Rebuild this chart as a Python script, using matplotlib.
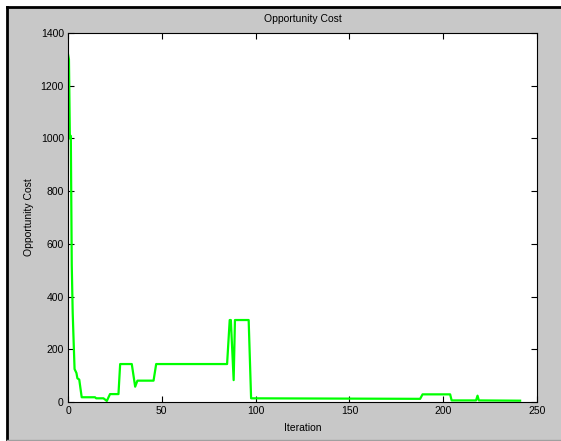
import matplotlib
matplotlib.use("Agg")
import matplotlib.pyplot as plt
from matplotlib.patches import Rectangle
from matplotlib.lines import Line2D

# breakpoints
iteration = [0, 0.5, 1, 1.5, 2, 2.5, 3, 3.5, 4.5, 5, 6, 7.3, 14.4, 15, 18.9, 20.7,
             22.4, 26.9, 27.8, 34, 35.8, 37, 45.6, 47, 84.8, 86.2, 86.8, 88.3,
             89, 90.1, 96.3, 97.6, 187.7, 189, 203.7, 204.5, 217.5, 218.3, 219, 241]
cost = [1320, 1300, 1000, 1010, 520, 340, 230, 125, 110, 90, 85, 18, 18, 14, 14, 4,
        30, 30, 144, 144, 58, 81, 81, 144, 144, 311, 311, 83,
        311, 311, 311, 14, 12, 29, 29, 6, 6, 24, 6, 5]

xticks = [0, 50, 100, 150, 200, 250]
yticks = [0, 200, 400, 600, 800, 1000, 1200, 1400]

plt.rcParams["font.family"] = ["Liberation Sans", "DejaVu Sans"]

fig = plt.figure(figsize=(5.61, 4.41), dpi=100, facecolor="white")

# window-like frame
W, H = 561, 441
fig.add_artist(Rectangle((7 / W, 0), 1 - 7 / W, 1 - 7 / H, transform=fig.transFigure,
                         facecolor="#c8c8c8", edgecolor="none", zorder=-10))
fig.add_artist(Line2D([7 / W, 7 / W], [0, 1 - 7 / H], transform=fig.transFigure,
                      color="black", lw=2))
fig.add_artist(Line2D([7 / W, 1], [1 - 7 / H, 1 - 7 / H], transform=fig.transFigure,
                      color="black", lw=2))
fig.add_artist(Line2D([7 / W, 1], [1.5 / H, 1.5 / H], transform=fig.transFigure,
                      color="#a0a0a0", lw=1))

ax = fig.add_axes([68 / W, 1 - 402 / H, (537 - 68) / W, (402 - 33) / H])
ax.set_facecolor("white")
ax.plot(iteration, cost, color="#00ff00", lw=1.6)

ax.set_xlim(0, 250)
ax.set_ylim(0, 1400)
ax.set_xticks(xticks)
ax.set_yticks(yticks)
ax.tick_params(direction="in", length=4, width=0.8, labelsize=7.5, top=True, right=True,
               colors="black", pad=3)
for s in ax.spines.values():
    s.set_linewidth(0.8)

ax.set_title("Opportunity Cost", fontsize=7.5, pad=8)
ax.set_xlabel("Iteration", fontsize=7.5, labelpad=5)
ax.set_ylabel("Opportunity Cost", fontsize=7.5, labelpad=5)

fig.savefig("out.png", dpi=100, facecolor=fig.get_facecolor())
